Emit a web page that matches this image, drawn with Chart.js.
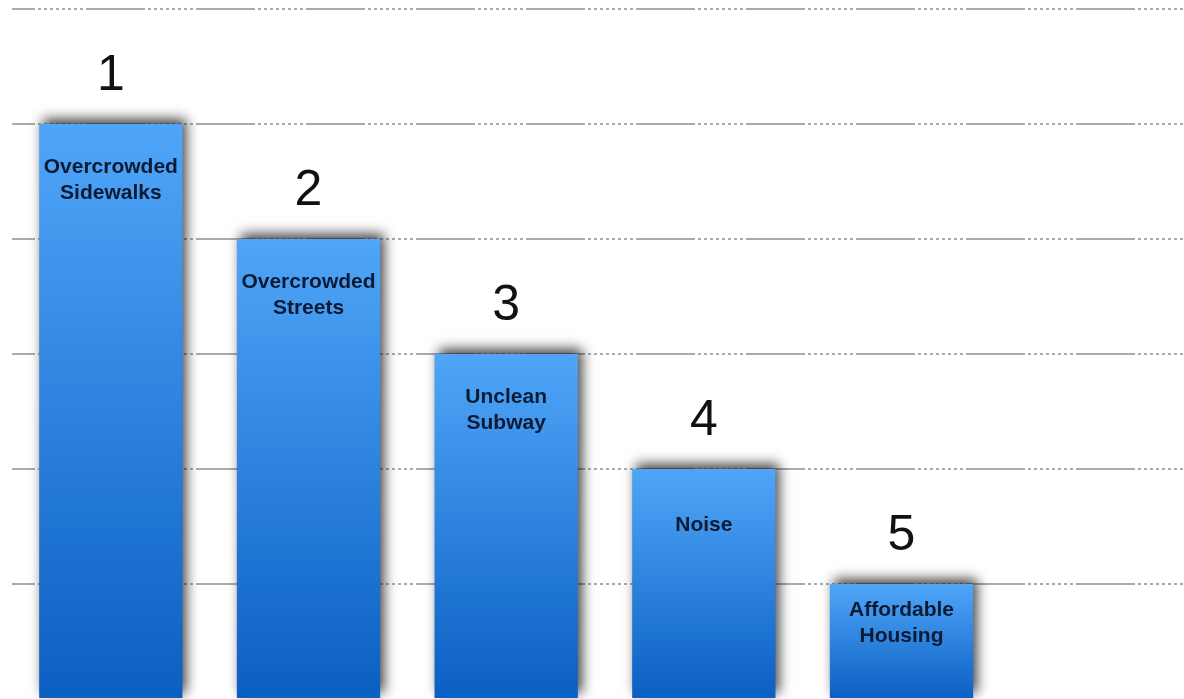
<!DOCTYPE html>
<html>
<head>
<meta charset="utf-8">
<script src="https://cdn.jsdelivr.net/npm/chart.js@4/dist/chart.umd.min.js"></script>
<style>
  html, body { margin: 0; padding: 0; background: #fff; overflow: hidden; width: 1184px; height: 699px; }
  #wrap { width: 1198px; height: 699px; position: relative; }
</style>
</head>
<body>
<div id="wrap"><canvas id="c"></canvas></div>
<script>
const categories = [["Overcrowded", "Sidewalks"], ["Overcrowded", "Streets"], ["Unclean", "Subway"], ["Noise"], ["Affordable", "Housing"], [""]];
const values = [5, 4, 3, 2, 1, null];
const ranks = ["1", "2", "3", "4", "5", ""];
const yMin = 0, yMax = 6, yStep = 1;

const gridDash = [59, 3, 3, 3, 3, 3, 3, 3, 3, 3, 3, 3, 3, 3, 3, 3, 3, 3];

const barShadow = {
  id: 'barShadow',
  beforeDatasetDraw(chart) {
    const ctx = chart.ctx;
    ctx.save();
    ctx.shadowColor = 'rgba(0,0,0,0.75)';
    ctx.shadowBlur = 12;
    ctx.shadowOffsetX = 4;
    ctx.shadowOffsetY = -5;
  },
  afterDatasetDraw(chart) {
    chart.ctx.restore();
  }
};

const barLabels = {
  id: 'barLabels',
  afterDatasetsDraw(chart) {
    const ctx = chart.ctx;
    const meta = chart.getDatasetMeta(0);
    ctx.save();
    meta.data.forEach((bar, i) => {
      if (values[i] == null) return;
      const x = bar.x, top = bar.y, h = bar.base - bar.y;
      ctx.fillStyle = '#111';
      ctx.font = '50px "Liberation Sans", Arial, sans-serif';
      ctx.textAlign = 'center';
      ctx.textBaseline = 'alphabetic';
      ctx.fillText(ranks[i], x, top - 34);
      const lines = categories[i];
      const lh = 26;
      const center = top + Math.min(56, h * 0.34);
      ctx.font = 'bold 21px "Liberation Sans", Arial, sans-serif';
      ctx.fillStyle = '#0c1a33';
      ctx.textBaseline = 'middle';
      lines.forEach((ln, k) => {
        const y = center + (k - (lines.length - 1) / 2) * lh;
        ctx.fillText(ln, x, y);
      });
    });
    ctx.restore();
  }
};

function barGradient(context) {
  const chart = context.chart;
  if (!chart.chartArea || context.type !== 'data') return '#3a8ee8';
  const ys = chart.scales.y;
  const v = context.raw;
  if (v == null) return '#3a8ee8';
  const top = ys.getPixelForValue(v);
  const base = ys.getPixelForValue(0);
  const g = chart.ctx.createLinearGradient(0, top, 0, base);
  g.addColorStop(0, '#4fa6f8');
  g.addColorStop(1, '#0a5fc2');
  return g;
}

new Chart(document.getElementById('c'), {
  type: 'bar',
  data: {
    labels: categories,
    datasets: [{
      data: values,
      backgroundColor: barGradient,
      borderWidth: 0,
      barPercentage: 0.725,
      categoryPercentage: 1.0
    }]
  },
  options: {
    responsive: true,
    maintainAspectRatio: false,
    animation: false,
    layout: { padding: { left: 12, top: 9, right: 0, bottom: 0 } },
    plugins: { legend: { display: false }, tooltip: { enabled: false } },
    scales: {
      x: {
        display: false,
        grid: { display: false }
      },
      y: {
        min: yMin, max: yMax,
        ticks: { display: false, stepSize: yStep },
        grid: {
          color: (c) => (c.tick && c.tick.value === yMin) ? 'rgba(0,0,0,0)' : '#aaaaaa',
          lineWidth: 2,
          drawTicks: false
        },
        border: { display: false, dash: gridDash, dashOffset: 36 }
      }
    }
  },
  plugins: [barShadow, barLabels]
});
</script>
</body>
</html>
